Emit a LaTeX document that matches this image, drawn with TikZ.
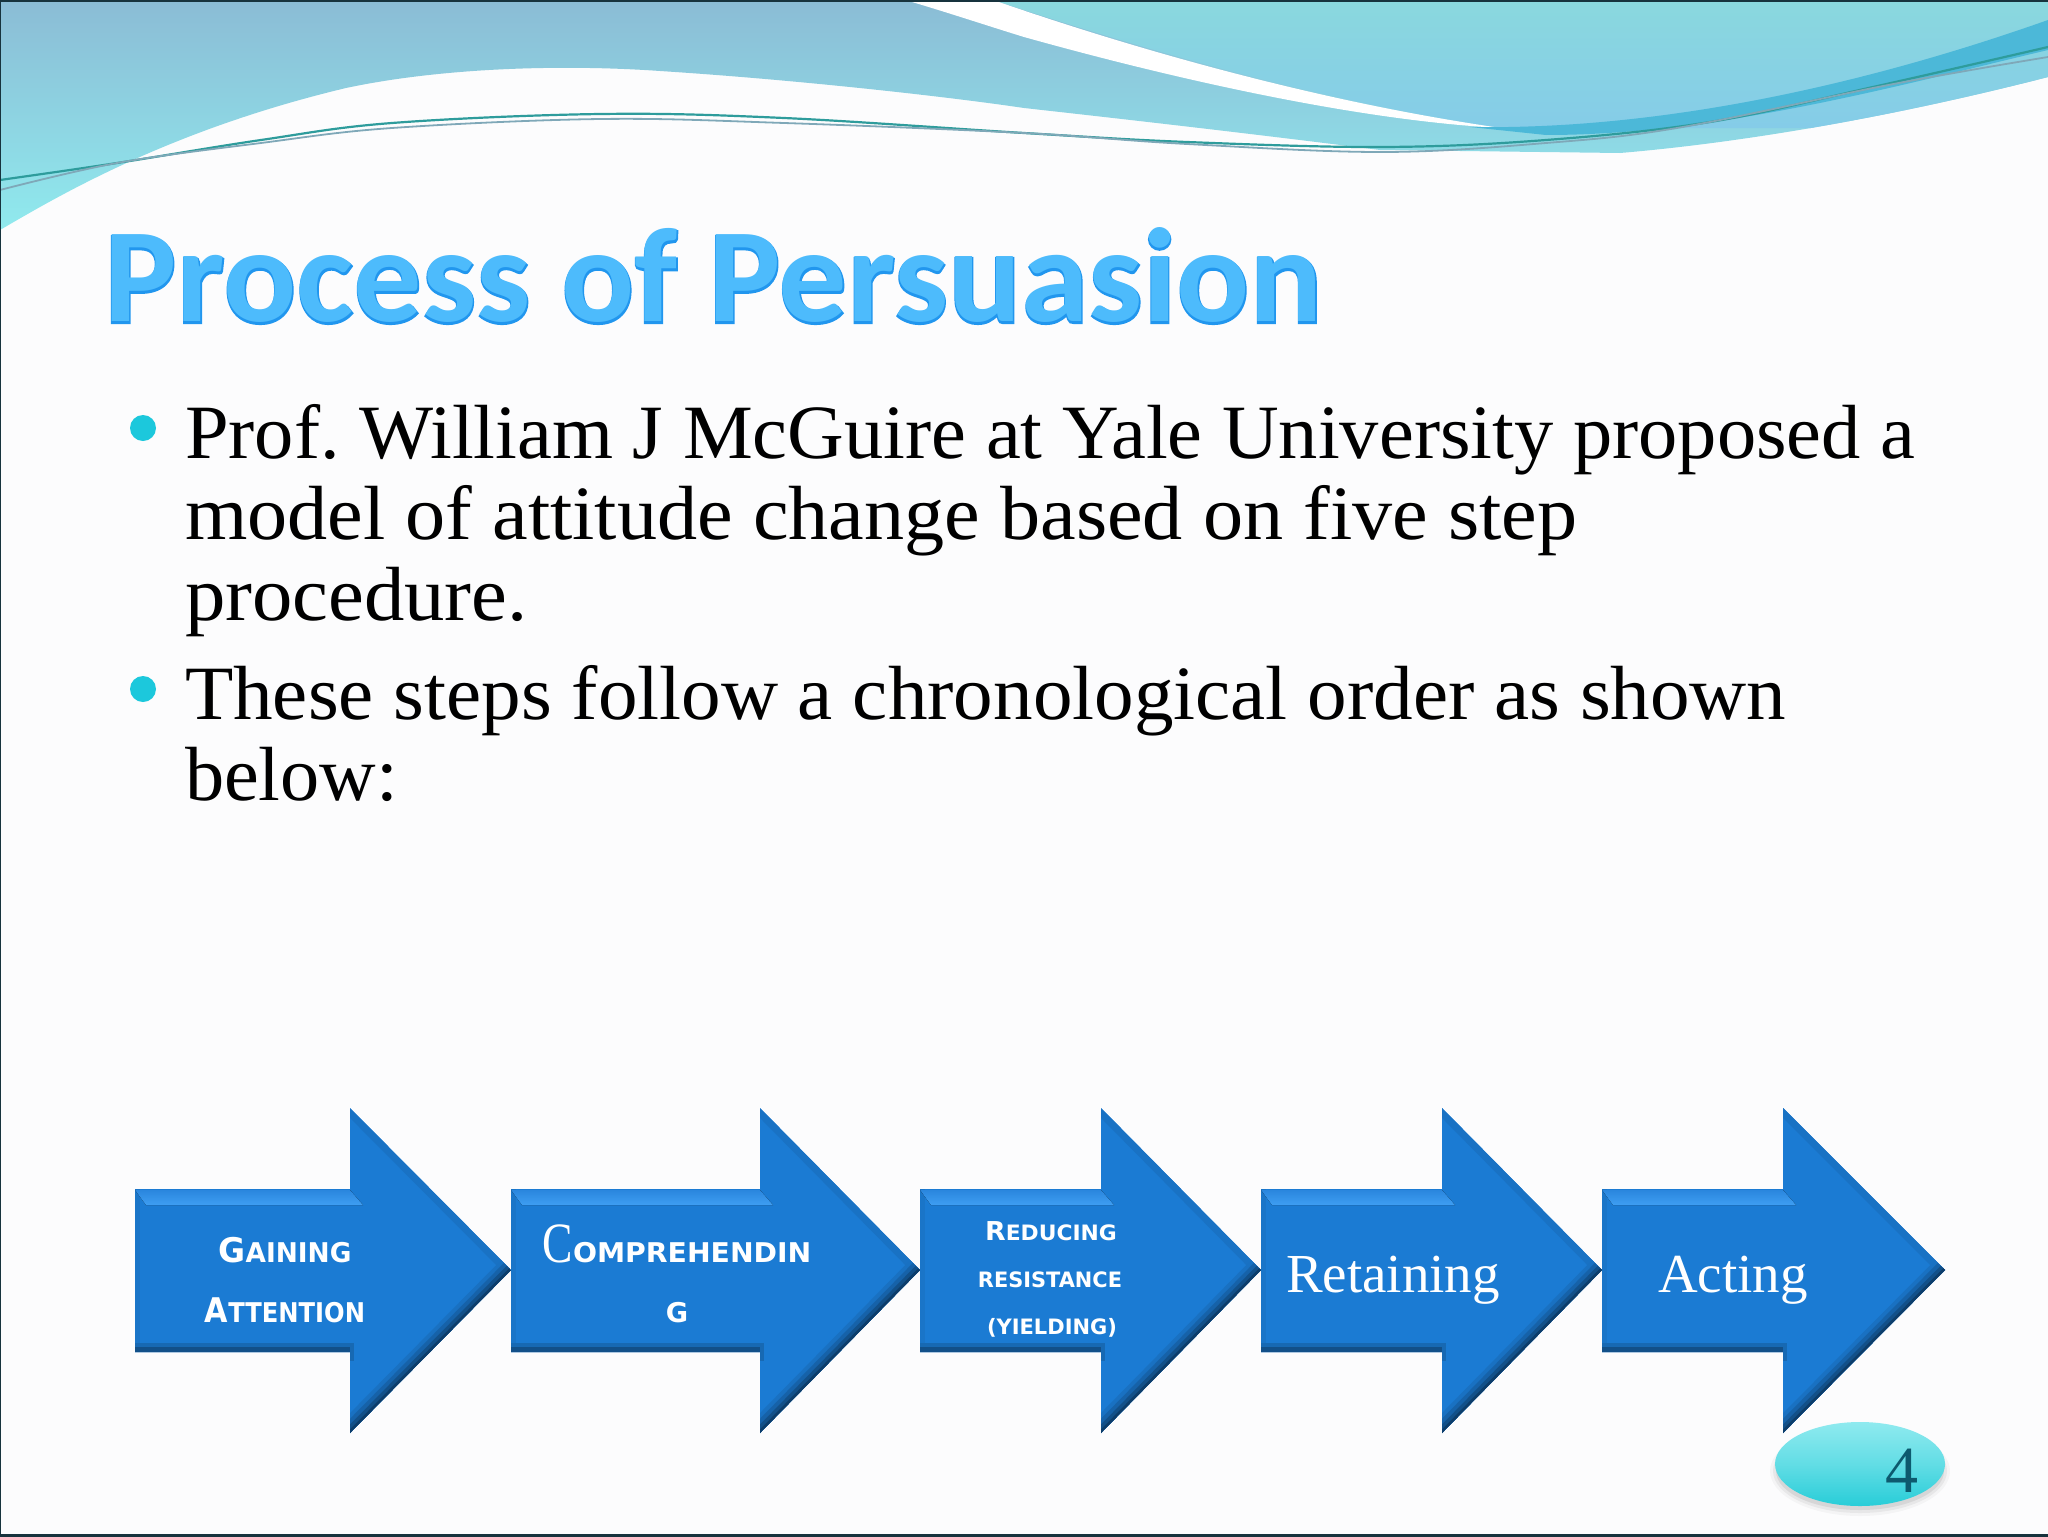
\documentclass[tikz,border=0pt]{standalone}
\usepackage{fontspec}
\usetikzlibrary{calc}
\setmainfont{Liberation Serif}
\newfontfamily\bodyfont[FakeStretch=1.03]{Liberation Serif}
\newfontfamily\titlefont[FakeStretch=1.016]{Carlito Bold}
\newfontfamily\titlefat[FakeBold=1.6,FakeStretch=1.016]{Carlito Bold}
\newfontfamily\wide{DejaVu Sans Bold}
\newcommand{\capA}[1]{{\fontsize{17}{17}\selectfont\wide #1}}
\newcommand{\capB}[1]{{\fontsize{13.6}{13.6}\selectfont\wide #1}}
\newcommand{\fitline}[2]{\scalebox{#1}[1]{#2}}
\definecolor{arrowblue}{HTML}{1B7BD3}
\definecolor{bgwhite}{HTML}{FCFCFD}
\definecolor{bulletc}{HTML}{1CC8DC}
\definecolor{waveT}{HTML}{8BBCD5}
\definecolor{waveBt}{HTML}{90EAEE}
\definecolor{upT}{HTML}{8AD8DE}
\definecolor{upB}{HTML}{85CCE8}
\definecolor{wavedark}{HTML}{4CB8D8}
\definecolor{waveA}{HTML}{2E9C9C}
\definecolor{waveB}{HTML}{7FA8B8}
\definecolor{edgedark}{HTML}{17333D}
\definecolor{titleedge}{HTML}{2196EE}
\definecolor{titlefill}{HTML}{4DBBFC}
\definecolor{ballt}{HTML}{8FEAEF}
\definecolor{ballm}{HTML}{62DDE5}
\definecolor{ballb}{HTML}{28CDD8}
\definecolor{numc}{HTML}{0D5A6E}
\definecolor{stripT}{HTML}{2A86DE}
\definecolor{stripB}{HTML}{3E9EF2}
\tikzset{
  lbl/.style={inner sep=0pt,outer sep=0pt,anchor=base,text=white},
  bodytext/.style={inner sep=0pt,outer sep=0pt,anchor=base west,align=left,
    font=\fontsize{38.4}{40.5}\selectfont\bodyfont\frenchspacing},
  bullet/.style={circle,inner sep=0pt,minimum size=13pt,fill=bulletc},
  acting/.style={lbl,font=\fontsize{27.5}{27.5}\selectfont},
}
\newcommand{\stepshape}[3]{%
  \def\shp{(#1,1189) -- (#2,1189) -- (#2,1108) -- (#3,1270) -- (#2,1433) -- (#2,1352) -- (#1,1352) -- cycle}
  \fill[arrowblue] \shp;
  \begin{scope}
    \clip \shp;
    \draw[line width=7pt,color=arrowblue!93!black] (#2,1108) -- (#3,1270);
    \draw[line width=5pt,color=arrowblue!95!black] (#1,1189) -- (#1,1352);
    \draw[line width=14pt,color=arrowblue!92!black] (#3,1270) -- (#2,1433);
    \draw[line width=10pt,color=arrowblue!80!black] (#3,1270) -- (#2,1433);
    \draw[line width=6pt,color=arrowblue!65!black] (#3,1270) -- (#2,1433);
    \draw[line width=2.5pt,color=arrowblue!50!black] (#3,1270) -- (#2,1433);
    \draw[line width=9pt,color=arrowblue!85!black] (#1,1352) -- ($(#2,1352)+(4,0)$);
    \draw[line width=5pt,color=arrowblue!65!black] (#1,1352) -- (#2,1352);
    \fill[top color=stripT,bottom color=stripB]
      (#1,1190) -- (#2,1190) -- ($(#2,1205)+(13,0)$) -- ($(#1,1205)+(11,0)$) -- cycle;
  \end{scope}}
\begin{document}
\begin{tikzpicture}[x=0.5pt,y=-0.5pt]
\useasboundingbox (0,0) rectangle (2048,1536);
\fill[bgwhite] (0,0) rectangle (2048,1536);
% header waves
\begin{scope}
  \clip (0,0) -- (2048,0) -- (2048,77) .. controls (1900,115) and (1750,142) .. (1620,153) -- (1380,150) .. controls (1270,136) and (1150,122) .. (1024,108) .. controls (950,97) and (800,80) .. (660,71) .. controls (560,64) and (440,68) .. (346,88) .. controls (170,130) and (60,195) .. (0,230) -- cycle;
  \shade[top color=waveT,bottom color=waveBt] (0,0) rectangle (2048,230);
  % upper right
  \shade[top color=upT,bottom color=upB]
    (993,0) .. controls (1160,55) and (1340,105) .. (1501,128) -- (2048,128) -- (2048,0) -- cycle;
  % white band
  \fill[white] (905,0) -- (993,0) .. controls (1160,58) and (1340,105) .. (1501,128)
     .. controls (1350,120) and (1160,75) .. (1024,37) .. controls (985,25) and (940,10) .. cycle;
  % dark wave
  \fill[wavedark] (1470,127) .. controls (1650,130) and (1850,90) .. (2048,20) -- (2048,50)
     .. controls (1900,85) and (1720,135) .. (1546,135) -- cycle;
\end{scope}
\draw[line width=1.1pt,color=waveA] plot[smooth,tension=0.6] coordinates
 {(0,180) (117,163) (261,140) (392,123) (601,114) (784,118) (1024,133) (1187,142) (1383,147) (1546,140) (1710,122) (1873,87) (2048,47)};
\draw[line width=0.9pt,color=waveB] plot[smooth,tension=0.6] coordinates
 {(0,190) (117,163) (261,143) (392,128) (601,119) (784,123) (1024,133) (1187,144) (1383,152) (1546,143) (1677,128) (1873,88) (1971,70) (2048,57)};
% frame
\draw[line width=1.5pt,color=edgedark] (0,1) -- (2048,1);
\draw[line width=1.5pt,color=edgedark] (0,1535) -- (2048,1535);
\draw[line width=0.6pt,color=edgedark] (0.5,0) -- (0.5,1536);
% title
\node[inner sep=0pt,anchor=base west,text=titleedge] (titleback) at (104,323)
  {\fontsize{67}{67}\selectfont\titlefat Process of Persuasion};
\node[inner sep=0pt,anchor=base west,text=titlefill] (title) at (104,321)
  {\fontsize{67}{67}\selectfont\titlefont Process of Persuasion};
% bullets
\node[bullet] (b1) at (143,428) {};
\node[bullet] (b2) at (143,689) {};
\node[bodytext] (p1) at (185,620) {\fitline{0.992}{Prof. William J McGuire at Yale University proposed a}\\\fitline{1.014}{model of attitude change based on five step}\\\fitline{1.02}{procedure.}};
\node[bodytext] (p2) at (185,800) {\fitline{1.0}{These steps follow a chronological order as shown}\\\fitline{0.99}{below:}};
% arrows
\stepshape{135}{350}{511}
\stepshape{511}{760}{920}
\stepshape{920}{1101}{1261}
\stepshape{1261}{1442}{1602}
\stepshape{1602}{1783}{1945}
% labels
\node[lbl] (g1) at (285,1262) {\scalebox{0.97}[1]{\capA{G}\capB{AINING}}};
\node[lbl] (g2) at (285,1322) {\scalebox{0.89}[1]{\capA{A}\capB{TTENTION}}};
\node[lbl] (c1) at (677,1262) {\scalebox{0.8}[1]{\fontsize{28.5}{28.5}\selectfont C}\scalebox{1.04}[1]{\capB{OMPREHENDIN}}};
\node[lbl] (c2) at (677,1322) {\capB{G}};
\node[lbl] (r1) at (1051,1240) {\scalebox{1.03}[1]{\fontsize{13}{13}\selectfont\wide R{\fontsize{10.6}{10.6}\selectfont EDUCING}}};
\node[lbl] (r2) at (1050,1287) {\scalebox{0.985}[1]{\fontsize{10.6}{10.6}\selectfont\wide RESISTANCE}};
\node[lbl] (r3) at (1052,1334) {\scalebox{0.99}[1]{\fontsize{10.6}{10.6}\selectfont\wide (YIELDING)}};
\node[acting] (ret) at (1393,1292) {Retaining};
\node[acting] (act) at (1733,1292) {Acting};
% slide number
\foreach \o/\g in {0.03/8,0.05/5,0.07/2}{
  \fill[black,opacity=\o] (1860,1471) ellipse ({82+\g} and {37+\g});}
\shade[top color=ballt,bottom color=ballb,middle color=ballm] (1860,1464) ellipse (85 and 42) ;
\node[inner sep=0pt,anchor=base,text=numc,font=\fontsize{33}{33}\selectfont] (num) at (1902,1492) {4};
\end{tikzpicture}
\end{document}
